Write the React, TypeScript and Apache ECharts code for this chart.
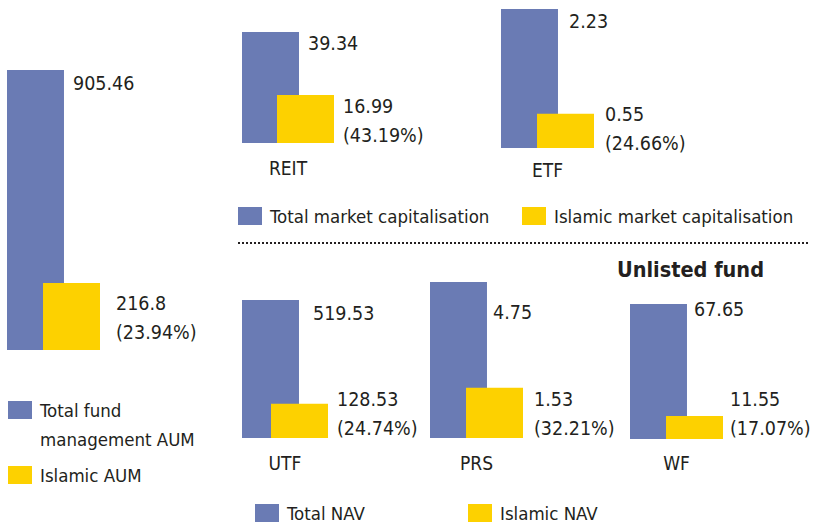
import React, { useEffect, useRef } from 'react';
import * as echarts from 'echarts';

// ---- data ----
const categories = ['AUM', 'REIT', 'ETF', 'UTF', 'PRS', 'WF'];
const showCategory = [false, true, true, true, true, true];
const totalValues = [905.46, 39.34, 2.23, 519.53, 4.75, 67.65];
const islamicValues = [216.8, 16.99, 0.55, 128.53, 1.53, 11.55];
const islamicShares = ['23.94', '43.19', '24.66', '24.74', '32.21', '17.07'];
const totalNames = [
  'Total fund management AUM',
  'Total market capitalisation',
  'Total market capitalisation',
  'Total NAV',
  'Total NAV',
  'Total NAV',
];
const islamicNames = [
  'Islamic AUM',
  'Islamic market capitalisation',
  'Islamic market capitalisation',
  'Islamic NAV',
  'Islamic NAV',
  'Islamic NAV',
];
const sectionTitle = 'Unlisted fund';

// ---- layout / style ----
const BLUE = '#6a7bb4';
const YELLOW = '#fdd100';
const TEXT = '#231f20';
const FONT = '"DejaVu Sans Condensed", "Liberation Sans", sans-serif';
const VALUE_SIZE = 19.5;

const panels = [
  { left: 7, top: 70, width: 93, height: 280, gap: '-36.8%', margin: 15, tOff: [9, 13], iOff: [16, -32.5] },
  { left: 242, top: 32, width: 92, height: 111, gap: '-38.6%', margin: 15, tOff: [9, 11], iOff: [9, -22.5] },
  { left: 501, top: 9, width: 93, height: 139, gap: '-36.8%', margin: 12, tOff: [11, 12], iOff: [11, -19.5] },
  { left: 242, top: 300, width: 86, height: 138, gap: '-49.1%', margin: 15, tOff: [14, 13], iOff: [9, -24.5] },
  { left: 430, top: 282, width: 93, height: 156, gap: '-36.8%', margin: 15, tOff: [6, 30], iOff: [11, -24] },
  { left: 630, top: 304, width: 93, height: 135, gap: '-36.8%', margin: 14, tOff: [7, 5], iOff: [7, -25] },
];

const legendItems = [
  { name: 'Total fund management AUM', left: 8, top: 366.5, multi: true },
  { name: 'Islamic AUM', left: 8, top: 465.5 },
  { name: 'Total market capitalisation', left: 238, top: 206.5 },
  { name: 'Islamic market capitalisation', left: 522, top: 206.5 },
  { name: 'Total NAV', left: 255, top: 503.5 },
  { name: 'Islamic NAV', left: 468, top: 503.5 },
];

export default function App() {
  const ref = useRef<HTMLDivElement>(null);

  useEffect(() => {
    if (!ref.current) return;
    const chart = echarts.init(ref.current, null, { renderer: 'svg' });

    const grid: any[] = [];
    const xAxis: any[] = [];
    const yAxis: any[] = [];
    const series: any[] = [];

    panels.forEach((p, i) => {
      grid.push({ left: p.left, top: p.top, width: p.width, height: p.height, containLabel: false, outerBoundsMode: 'none' });
      xAxis.push({
        gridIndex: i,
        type: 'category',
        data: [categories[i]],
        axisLine: { show: false },
        axisTick: { show: false },
        splitLine: { show: false },
        axisLabel: { show: showCategory[i], margin: p.margin, fontSize: 19, color: TEXT, fontFamily: FONT },
      });
      yAxis.push({ gridIndex: i, type: 'value', min: 0, max: 'dataMax', show: false, splitLine: { show: false } });
      series.push({
        type: 'bar',
        name: totalNames[i],
        xAxisIndex: i,
        yAxisIndex: i,
        data: [totalValues[i]],
        barWidth: 57,
        barGap: p.gap,
        silent: true,
        emphasis: { disabled: true },
        itemStyle: { color: BLUE },
        label: {
          show: true,
          position: ['100%', 0],
          align: 'left',
          verticalAlign: 'middle',
          offset: p.tOff,
          fontSize: VALUE_SIZE,
          color: TEXT,
          fontFamily: FONT,
          formatter: (d: any) => `${d.value}`,
        },
      });
      series.push({
        type: 'bar',
        name: islamicNames[i],
        xAxisIndex: i,
        yAxisIndex: i,
        data: [islamicValues[i]],
        barWidth: 57,
        barGap: p.gap,
        silent: true,
        emphasis: { disabled: true },
        itemStyle: { color: YELLOW },
        label: {
          show: true,
          position: ['100%', '100%'],
          align: 'left',
          verticalAlign: 'middle',
          offset: p.iOff,
          fontSize: VALUE_SIZE,
          lineHeight: 29,
          color: TEXT,
          fontFamily: FONT,
          formatter: (d: any) => `${d.value}\n(${islamicShares[i]}%)`,
        },
      });
    });

    const legend = legendItems.map((l) => ({
      data: [l.name],
      left: l.left,
      top: l.top,
      padding: 0,
      orient: 'vertical',
      selectedMode: false,
      icon: 'rect',
      itemWidth: 24,
      itemHeight: 18,
      formatter: l.multi ? () => ' \nTotal fund\nmanagement AUM' : undefined,
      textStyle: {
        fontSize: 18.5,
        color: TEXT,
        fontFamily: FONT,
        lineHeight: l.multi ? 29 : undefined,
        padding: [0, 0, 0, 3],
      },
    }));

    chart.setOption({
      animation: false,
      backgroundColor: '#ffffff',
      textStyle: { fontFamily: FONT, color: TEXT },
      title: {
        text: sectionTitle,
        left: 617,
        top: 258,
        padding: 0,
        textStyle: { fontSize: 21.5, fontWeight: 'bold', color: TEXT, fontFamily: FONT },
      },
      grid,
      xAxis,
      yAxis,
      series,
      legend,
      graphic: [
        {
          type: 'line',
          shape: { x1: 238, y1: 243, x2: 808, y2: 243 },
          style: { stroke: TEXT, lineWidth: 2, lineDash: [2, 2] },
          silent: true,
        },
      ],
    });

    return () => chart.dispose();
  }, []);

  return (
    <div
      ref={ref}
      style={{ position: 'fixed', left: 0, top: 0, width: 813, height: 527 }}
    />
  );
}
